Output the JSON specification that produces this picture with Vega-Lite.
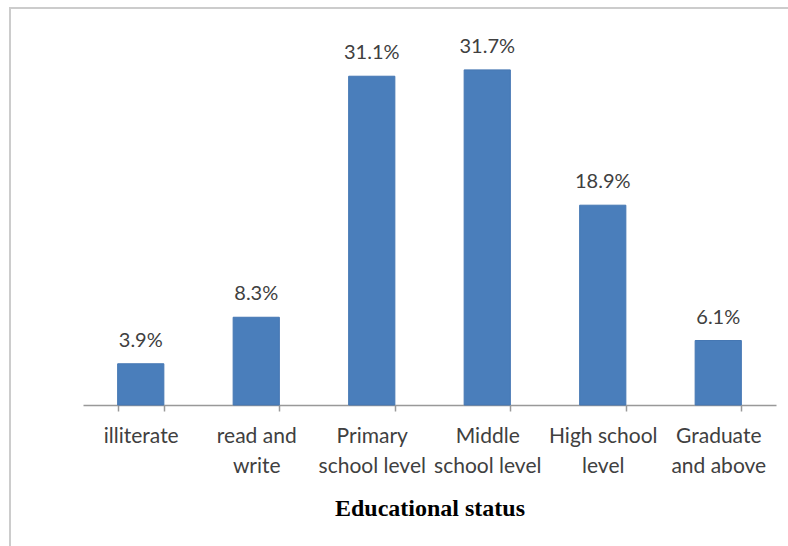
{
  "$schema": "https://vega.github.io/schema/vega-lite/v6.json",
  "autosize": "none",
  "padding": {"left": 10, "top": 8, "right": 0, "bottom": 0},
  "width": 778,
  "height": 538,
  "background": "white",
  "config": {
    "view": {"stroke": "#cccccc", "strokeWidth": 2, "strokeDash": [778, 1316, 538]},
    "font": "Lato"
  },
  "data": {
    "values": [
      {"status": "illiterate", "percent": 3.9, "label": "3.9%"},
      {"status": "read and write", "percent": 8.3, "label": "8.3%"},
      {"status": "Primary school level", "percent": 31.1, "label": "31.1%"},
      {"status": "Middle school level", "percent": 31.7, "label": "31.7%"},
      {"status": "High school level", "percent": 18.9, "label": "18.9%"},
      {"status": "Graduate and above", "percent": 6.1, "label": "6.1%"}
    ]
  },
  "encoding": {
    "x": {
      "field": "status",
      "type": "nominal",
      "sort": null,
      "scale": {"range": [73, 766], "paddingInner": 0.6, "paddingOuter": 0.3},
      "axis": {
        "title": "Educational status",
        "titleFont": "Liberation Serif",
        "titleFontWeight": "bold",
        "titleFontSize": 24,
        "titleColor": "#000000",
        "titlePadding": 20,
        "labelAngle": 0,
        "labelFont": "Lato",
        "labelFontSize": 21,
        "labelColor": "#404040",
        "labelLineHeight": 30,
        "labelPadding": 14,
        "labelExpr": "datum.value == 'read and write' ? ['read and', 'write'] : datum.value == 'Primary school level' ? ['Primary', 'school level'] : datum.value == 'Middle school level' ? ['Middle', 'school level'] : datum.value == 'High school level' ? ['High school', 'level'] : datum.value == 'Graduate and above' ? ['Graduate', 'and above'] : datum.value",
        "offset": -141,
        "domainColor": "#999999",
        "domainWidth": 1.5,
        "tickColor": "#999999",
        "tickWidth": 1.5,
        "tickSize": 6,
        "tickBand": "extent"
      }
    },
    "y": {
      "field": "percent",
      "type": "quantitative",
      "scale": {"domain": [0, 35], "range": [397, 27], "nice": false, "zero": true},
      "axis": null
    }
  },
  "layer": [
    {
      "mark": {"type": "bar", "color": "#4a7ebb", "stroke": "#4577b3", "strokeWidth": 1}
    },
    {
      "mark": {"type": "text", "baseline": "alphabetic", "dy": -17, "fontSize": 20, "color": "#404040", "font": "Lato"},
      "encoding": {
        "text": {"field": "label", "type": "nominal"}
      }
    }
  ]
}
